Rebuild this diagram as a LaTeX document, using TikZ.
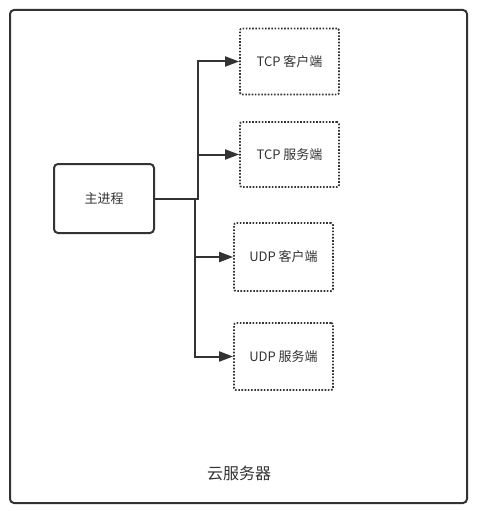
\documentclass[tikz,border=0pt]{standalone}
\usepackage{fontspec}
\setmainfont{Noto Sans CJK SC}
\usetikzlibrary{arrows.meta}
\definecolor{ink}{HTML}{333333}
\begin{document}
\begin{tikzpicture}[x=1pt,y=-1pt,
  solidbox/.style={draw=ink,line width=2pt,rounded corners=4pt,text=ink,font=\fontsize{13}{15}\selectfont},
  dotbox/.style={draw=ink,line width=1.8pt,dash pattern=on 1.6pt off 1.6pt,rounded corners=2pt,text=ink,font=\fontsize{13}{15}\selectfont},
  conn/.style={draw=ink,line width=2pt,-{Triangle[length=14pt,width=10pt]}}]
\useasboundingbox (0,0) rectangle (481,511);
\node[solidbox,minimum width=457pt,minimum height=493pt] (cloud) at (238.5,256.5) {};
\node[text=ink,font=\fontsize{16}{18}\selectfont] (cloudlabel) at (239,473) {云服务器};
\node[solidbox,minimum width=100pt,minimum height=69pt] (main) at (104,198.5) {主进程};
\node[dotbox,minimum width=99pt,minimum height=66pt] (tcpc) at (289.5,61.5) {TCP 客户端};
\node[dotbox,minimum width=99pt,minimum height=65pt] (tcps) at (289.5,154.5) {TCP 服务端};
\node[dotbox,minimum width=99pt,minimum height=68pt] (udpc) at (283.5,257) {UDP 客户端};
\node[dotbox,minimum width=99pt,minimum height=67pt] (udps) at (283.5,356.5) {UDP 服务端};
\draw[conn] (main.east) -- ++(43,0) |- (tcpc.west);
\draw[conn] (main.east) -- ++(43,0) |- (tcps.west);
\draw[conn] (main.east) -- ++(40,0) |- (udpc.west);
\draw[conn] (main.east) -- ++(40,0) |- (udps.west);
\end{tikzpicture}
\end{document}
